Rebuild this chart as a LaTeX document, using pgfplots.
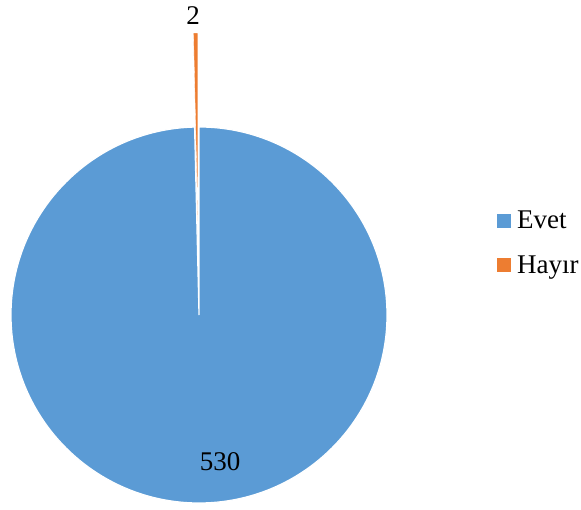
\documentclass[border=0pt]{standalone}
\usepackage{fontspec}
\setmainfont{Liberation Serif}
\usepackage{pgfplots}
\pgfplotsset{compat=1.18}
\usepackage{pgfplotstable}
\definecolor{evet}{HTML}{5B9BD5}
\definecolor{hayir}{HTML}{ED7D31}
\pgfplotstableread{
label value
Evet 530
Hayir 2
}\piedata
\begin{document}
\begin{tikzpicture}
\pgfplotstablegetelem{0}{value}\of\piedata \pgfmathsetmacro\va{\pgfplotsretval}
\pgfplotstablegetelem{1}{value}\of\piedata \pgfmathsetmacro\vb{\pgfplotsretval}
\pgfmathsetmacro\total{\va+\vb}
\pgfmathsetmacro\angb{360*\vb/\total}
\pgfmathsetmacro\hx{199+94*cos(90+\angb/2)}
\pgfmathsetmacro\hy{194+94*sin(90+\angb/2)}
\begin{axis}[width=581pt,height=509pt,scale only axis,
  xmin=0,xmax=581,ymin=0,ymax=509,hide axis,clip=false,
  legend style={at={(axis cs:497,266)},anchor=west,draw=none,fill=none,
    font=\fontsize{27}{31}\selectfont,row sep=21pt,inner sep=0pt,
    /tikz/every odd column/.style={column sep=4pt}},
  legend cell align=left,
  legend image code/.code={\fill[#1] (0pt,-7pt) rectangle (14pt,7pt);},
]
\addlegendimage{fill=evet,draw=none}
\addlegendentry{Evet}
\addlegendimage{fill=hayir,draw=none}
\addlegendentry{Hayır}
\path (axis cs:0,0) rectangle (axis cs:581,509);
\fill[evet,draw=white,line width=1.2pt] (axis cs:199,194) -- ++(90+\angb:188pt)
  arc[start angle=90+\angb,end angle=450,radius=188pt] -- cycle;
\fill[hayir,draw=white,line width=0.3pt] (axis cs:\hx,\hy) -- ++(90:188pt)
  arc[start angle=90,end angle=90+\angb,radius=188pt] -- cycle;
\node[font=\fontsize{27}{31}\selectfont] at (axis cs:193,493) {2};
\node[font=\fontsize{27}{31}\selectfont] at (axis cs:220,47) {530};
\end{axis}
\end{tikzpicture}
\end{document}
